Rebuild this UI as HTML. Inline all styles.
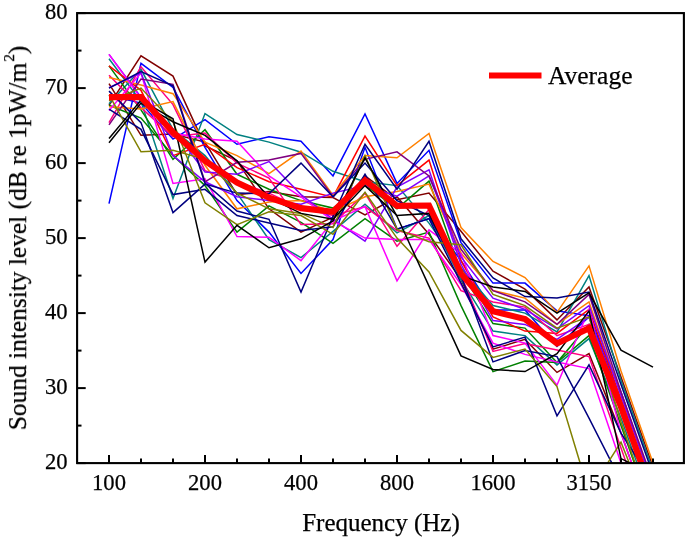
<!DOCTYPE html>
<html><head><meta charset="utf-8"><style>
html,body{margin:0;padding:0;background:#fff;width:685px;height:539px;overflow:hidden;position:relative}
.t{will-change:transform;position:absolute;font-family:"Liberation Serif",serif;font-size:22.6px;line-height:27px;color:#000;white-space:nowrap;-webkit-text-stroke:0.25px #000}
.c{text-align:center}
.ylab{font-size:25.4px;left:35px;top:238px;transform-origin:0 0;transform:translate(0,0) rotate(-90deg) translate(-50%,-100%);}
sup{font-size:15px;vertical-align:0;position:relative;top:-12px;margin-left:1px}
</style></head><body>
<svg width="685" height="539" viewBox="0 0 685 539" style="position:absolute;left:0;top:0">
<defs><clipPath id="pc"><rect x="77" y="13" width="607" height="450"/></clipPath></defs>
<g clip-path="url(#pc)" fill="none" stroke-linejoin="miter" stroke-linecap="butt">
<polyline points="109.0,105.3 141.0,55.9 173.0,76.1 205.0,145.9 237.0,160.9 269.0,208.8 301.0,232.1 333.0,217.1 365.0,175.9 397.0,199.8 429.0,193.1 461.0,231.3 493.0,271.1 525.0,289.1 557.0,319.9 589.0,286.9 621.0,376.9 653.0,466.9" stroke="#800000" stroke-width="1.5"/>
<polyline points="109.0,83.6 141.0,135.3 173.0,133.9 205.0,142.1 237.0,194.6 269.0,191.6 301.0,196.8 333.0,197.6 365.0,214.8 397.0,196.8 429.0,234.3 461.0,279.4 493.0,349.1 525.0,339.4 557.0,372.4 589.0,353.6 621.0,433.1 653.0,523.1" stroke="#800000" stroke-width="1.5"/>
<polyline points="109.0,203.6 141.0,63.4 173.0,87.4 205.0,147.3 237.0,200.6 269.0,232.1 301.0,273.4 333.0,239.6 365.0,147.3 397.0,229.1 429.0,218.6 461.0,260.6 493.0,310.1 525.0,310.1 557.0,346.5 589.0,316.9 621.0,399.4 653.0,493.1" stroke="#0000ff" stroke-width="1.5"/>
<polyline points="109.0,95.6 141.0,103.1 173.0,139.1 205.0,119.6 237.0,144.3 269.0,136.8 301.0,141.3 333.0,175.9 365.0,114.0 397.0,183.4 429.0,150.3 461.0,242.6 493.0,283.1 525.0,283.1 557.0,310.9 589.0,315.7 621.0,391.9 653.0,485.6" stroke="#0000ff" stroke-width="1.5"/>
<polyline points="109.0,58.8 141.0,101.6 173.0,198.4 205.0,113.6 237.0,134.6 269.0,142.1 301.0,152.2 333.0,171.3 365.0,181.8 397.0,185.6 429.0,223.1 461.0,268.1 493.0,305.6 525.0,313.1 557.0,331.9 589.0,275.6 621.0,380.6 653.0,470.6" stroke="#008080" stroke-width="1.5"/>
<polyline points="109.0,103.8 141.0,69.3 173.0,129.3 205.0,155.6 237.0,193.1 269.0,239.6 301.0,257.6 333.0,231.3 365.0,204.3 397.0,232.8 429.0,215.6 461.0,279.4 493.0,331.1 525.0,335.6 557.0,364.9 589.0,338.6 621.0,418.1 653.0,508.1" stroke="#008080" stroke-width="1.5"/>
<polyline points="109.0,65.9 141.0,109.9 173.0,159.3 205.0,129.7 237.0,174.3 269.0,189.3 301.0,200.6 333.0,208.1 365.0,184.8 397.0,208.8 429.0,181.1 461.0,271.9 493.0,323.6 525.0,328.1 557.0,362.6 589.0,324.4 621.0,406.9 653.0,493.1" stroke="#008000" stroke-width="1.5"/>
<polyline points="109.0,105.3 141.0,118.1 173.0,155.6 205.0,185.6 237.0,232.1 269.0,205.9 301.0,222.3 333.0,243.4 365.0,218.6 397.0,241.1 429.0,232.1 461.0,305.6 493.0,371.6 525.0,361.1 557.0,362.6 589.0,335.6 621.0,425.6 653.0,515.6" stroke="#008000" stroke-width="1.5"/>
<polyline points="109.0,65.9 141.0,90.3 173.0,155.6 205.0,144.3 237.0,167.6 269.0,181.8 301.0,189.3 333.0,197.2 365.0,136.1 397.0,185.6 429.0,160.1 461.0,260.6 493.0,316.9 525.0,331.1 557.0,333.4 589.0,309.4 621.0,399.4 653.0,493.1" stroke="#ff0000" stroke-width="1.5"/>
<polyline points="109.0,75.3 141.0,107.6 173.0,136.8 205.0,133.1 237.0,163.1 269.0,178.1 301.0,224.6 333.0,223.8 365.0,193.1 397.0,246.3 429.0,209.6 461.0,275.6 493.0,351.4 525.0,343.5 557.0,349.9 589.0,356.6 621.0,448.1 653.0,538.1" stroke="#ff0080" stroke-width="1.5"/>
<polyline points="109.0,122.6 141.0,66.7 173.0,104.6 205.0,170.6 237.0,181.8 269.0,193.1 301.0,208.1 333.0,215.6 365.0,206.6 397.0,230.6 429.0,238.1 461.0,290.6 493.0,301.9 525.0,307.1 557.0,335.6 589.0,324.4 621.0,410.6 653.0,500.6" stroke="#ff0080" stroke-width="1.5"/>
<polyline points="109.0,77.6 141.0,85.1 173.0,93.7 205.0,142.1 237.0,155.6 269.0,173.6 301.0,151.1 333.0,195.3 365.0,155.6 397.0,157.8 429.0,133.5 461.0,227.6 493.0,261.4 525.0,277.5 557.0,312.4 589.0,265.9 621.0,370.9 653.0,463.1" stroke="#ff8000" stroke-width="1.5"/>
<polyline points="109.0,106.8 141.0,109.1 173.0,101.6 205.0,165.3 237.0,208.8 269.0,202.1 301.0,200.6 333.0,211.8 365.0,196.8 397.0,191.6 429.0,184.1 461.0,253.1 493.0,290.6 525.0,298.1 557.0,324.4 589.0,301.9 621.0,395.6 653.0,485.6" stroke="#ff8000" stroke-width="1.5"/>
<polyline points="109.0,110.6 141.0,73.1 173.0,183.4 205.0,178.8 237.0,236.6 269.0,237.3 301.0,260.6 333.0,220.9 365.0,206.6 397.0,280.9 429.0,229.8 461.0,253.8 493.0,335.6 525.0,343.1 557.0,385.1 589.0,309.4 621.0,433.1 653.0,523.1" stroke="#ff00ff" stroke-width="1.5"/>
<polyline points="109.0,54.4 141.0,97.1 173.0,129.3 205.0,172.1 237.0,174.3 269.0,161.6 301.0,194.6 333.0,219.3 365.0,241.1 397.0,187.1 429.0,169.8 461.0,264.4 493.0,320.6 525.0,324.4 557.0,339.4 589.0,316.9 621.0,403.1 653.0,493.1" stroke="#8000ff" stroke-width="1.5"/>
<polyline points="109.0,54.4 141.0,98.6 173.0,133.1 205.0,139.1 237.0,141.3 269.0,175.9 301.0,196.8 333.0,220.9 365.0,238.1 397.0,239.6 429.0,239.6 461.0,284.6 493.0,343.1 525.0,354.4 557.0,361.9 589.0,368.6 621.0,463.1 653.0,553.1" stroke="#ff00ff" stroke-width="1.5"/>
<polyline points="109.0,87.7 141.0,72.7 173.0,155.6 205.0,181.8 237.0,196.8 269.0,200.6 301.0,204.3 333.0,193.1 365.0,185.6 397.0,196.1 429.0,175.9 461.0,256.9 493.0,298.1 525.0,309.4 557.0,328.9 589.0,305.6 621.0,395.6 653.0,485.6" stroke="#8000ff" stroke-width="1.5"/>
<polyline points="109.0,124.9 141.0,79.1 173.0,84.3 205.0,181.8 237.0,162.3 269.0,160.1 301.0,153.4 333.0,196.8 365.0,159.3 397.0,151.8 429.0,175.9 461.0,249.3 493.0,290.6 525.0,301.9 557.0,324.4 589.0,294.4 621.0,391.9 653.0,481.9" stroke="#800080" stroke-width="1.5"/>
<polyline points="109.0,88.1 141.0,71.6 173.0,85.9 205.0,183.4 237.0,211.1 269.0,219.3 301.0,292.1 333.0,216.3 365.0,144.3 397.0,189.3 429.0,141.3 461.0,238.8 493.0,277.9 525.0,296.6 557.0,298.1 589.0,292.1 621.0,384.4 653.0,474.4" stroke="#000080" stroke-width="1.5"/>
<polyline points="109.0,109.1 141.0,129.3 173.0,194.6 205.0,189.3 237.0,215.6 269.0,223.1 301.0,230.6 333.0,226.8 365.0,174.3 397.0,229.1 429.0,218.6 461.0,283.1 493.0,346.9 525.0,337.1 557.0,415.9 589.0,364.9 621.0,433.1 653.0,482.6" stroke="#000080" stroke-width="1.5"/>
<polyline points="109.0,91.1 141.0,122.6 173.0,212.6 205.0,184.1 237.0,193.1 269.0,193.8 301.0,163.1 333.0,196.8 365.0,163.1 397.0,200.6 429.0,215.6 461.0,275.6 493.0,361.9 525.0,350.6 557.0,356.6 589.0,418.1 621.0,481.1 653.0,553.1" stroke="#000080" stroke-width="1.5"/>
<polyline points="109.0,94.9 141.0,151.8 173.0,150.3 205.0,159.3 237.0,193.1 269.0,208.8 301.0,213.4 333.0,227.6 365.0,155.6 397.0,229.1 429.0,241.8 461.0,244.8 493.0,294.4 525.0,305.6 557.0,328.1 589.0,316.9 621.0,421.9 653.0,515.6" stroke="#808000" stroke-width="1.5"/>
<polyline points="109.0,100.9 141.0,88.1 173.0,121.8 205.0,202.8 237.0,224.6 269.0,211.8 301.0,215.6 333.0,234.3 365.0,192.3 397.0,238.1 429.0,271.9 461.0,330.4 493.0,357.4 525.0,349.1 557.0,386.6 589.0,492.4 621.0,442.1 653.0,523.1" stroke="#808000" stroke-width="1.5"/>
<polyline points="109.0,138.4 141.0,100.1 173.0,118.8 205.0,262.1 237.0,225.3 269.0,247.8 301.0,238.8 333.0,220.9 365.0,157.8 397.0,216.3 429.0,286.1 461.0,355.9 493.0,369.4 525.0,371.6 557.0,353.6 589.0,310.9 621.0,458.6 653.0,474.4" stroke="#000000" stroke-width="1.5"/>
<polyline points="109.0,142.8 141.0,103.1 173.0,121.8 205.0,135.3 237.0,160.9 269.0,197.6 301.0,213.4 333.0,219.3 365.0,185.6 397.0,215.6 429.0,213.4 461.0,275.6 493.0,286.9 525.0,291.4 557.0,313.1 589.0,292.9 621.0,350.2 653.0,367.1" stroke="#000000" stroke-width="1.5"/>
<polyline points="109.0,97.1 141.0,97.1 173.0,132.4 205.0,160.9 237.0,182.6 269.0,197.6 301.0,208.1 333.0,211.8 365.0,180.3 397.0,205.9 429.0,205.5 461.0,273.4 493.0,311.2 525.0,319.1 557.0,343.5 589.0,328.1 621.0,406.9 653.0,496.1" stroke="#ff0000" stroke-width="6.2" stroke-linejoin="miter"/>
</g>
<rect x="77.1" y="13.1" width="606.8" height="450" fill="none" stroke="#000" stroke-width="2.1"/>
<line x1="77" y1="463.1" x2="85.7" y2="463.1" stroke="#000" stroke-width="2"/>
<line x1="77" y1="425.6" x2="81.5" y2="425.6" stroke="#000" stroke-width="2"/>
<line x1="77" y1="388.1" x2="85.7" y2="388.1" stroke="#000" stroke-width="2"/>
<line x1="77" y1="350.6" x2="81.5" y2="350.6" stroke="#000" stroke-width="2"/>
<line x1="77" y1="313.1" x2="85.7" y2="313.1" stroke="#000" stroke-width="2"/>
<line x1="77" y1="275.6" x2="81.5" y2="275.6" stroke="#000" stroke-width="2"/>
<line x1="77" y1="238.1" x2="85.7" y2="238.1" stroke="#000" stroke-width="2"/>
<line x1="77" y1="200.6" x2="81.5" y2="200.6" stroke="#000" stroke-width="2"/>
<line x1="77" y1="163.1" x2="85.7" y2="163.1" stroke="#000" stroke-width="2"/>
<line x1="77" y1="125.6" x2="81.5" y2="125.6" stroke="#000" stroke-width="2"/>
<line x1="77" y1="88.1" x2="85.7" y2="88.1" stroke="#000" stroke-width="2"/>
<line x1="77" y1="50.6" x2="81.5" y2="50.6" stroke="#000" stroke-width="2"/>
<line x1="77" y1="13.1" x2="85.7" y2="13.1" stroke="#000" stroke-width="2"/>
<line x1="109" y1="463" x2="109" y2="455.0" stroke="#000" stroke-width="2"/>
<line x1="141" y1="463" x2="141" y2="458.5" stroke="#000" stroke-width="2"/>
<line x1="173" y1="463" x2="173" y2="458.5" stroke="#000" stroke-width="2"/>
<line x1="205" y1="463" x2="205" y2="455.0" stroke="#000" stroke-width="2"/>
<line x1="237" y1="463" x2="237" y2="458.5" stroke="#000" stroke-width="2"/>
<line x1="269" y1="463" x2="269" y2="458.5" stroke="#000" stroke-width="2"/>
<line x1="301" y1="463" x2="301" y2="455.0" stroke="#000" stroke-width="2"/>
<line x1="333" y1="463" x2="333" y2="458.5" stroke="#000" stroke-width="2"/>
<line x1="365" y1="463" x2="365" y2="458.5" stroke="#000" stroke-width="2"/>
<line x1="397" y1="463" x2="397" y2="455.0" stroke="#000" stroke-width="2"/>
<line x1="429" y1="463" x2="429" y2="458.5" stroke="#000" stroke-width="2"/>
<line x1="461" y1="463" x2="461" y2="458.5" stroke="#000" stroke-width="2"/>
<line x1="493" y1="463" x2="493" y2="455.0" stroke="#000" stroke-width="2"/>
<line x1="525" y1="463" x2="525" y2="458.5" stroke="#000" stroke-width="2"/>
<line x1="557" y1="463" x2="557" y2="458.5" stroke="#000" stroke-width="2"/>
<line x1="589" y1="463" x2="589" y2="455.0" stroke="#000" stroke-width="2"/>
<line x1="621" y1="463" x2="621" y2="458.5" stroke="#000" stroke-width="2"/>
<line x1="653" y1="463" x2="653" y2="458.5" stroke="#000" stroke-width="2"/>
<line x1="489" y1="75.5" x2="541.5" y2="75.5" stroke="#ff0000" stroke-width="6"/>
</svg>
<div class="t" style="right:617.5px;top:448.1px;text-align:right">20</div>
<div class="t" style="right:617.5px;top:373.1px;text-align:right">30</div>
<div class="t" style="right:617.5px;top:298.1px;text-align:right">40</div>
<div class="t" style="right:617.5px;top:223.1px;text-align:right">50</div>
<div class="t" style="right:617.5px;top:148.1px;text-align:right">60</div>
<div class="t" style="right:617.5px;top:73.1px;text-align:right">70</div>
<div class="t" style="right:617.5px;top:-1.9px;text-align:right">80</div>
<div class="t c" style="left:58.7px;top:469.3px;width:100px">100</div>
<div class="t c" style="left:154.7px;top:469.3px;width:100px">200</div>
<div class="t c" style="left:250.7px;top:469.3px;width:100px">400</div>
<div class="t c" style="left:346.7px;top:469.3px;width:100px">800</div>
<div class="t c" style="left:442.7px;top:469.3px;width:100px">1600</div>
<div class="t c" style="left:538.7px;top:469.3px;width:100px">3150</div>
<div class="t c" style="left:231px;top:509.3px;width:300px;font-size:25px">Frequency (Hz)</div>
<div class="t" style="left:548px;top:61.8px;font-size:25.5px">Average</div>
<div class="t ylab">Sound intensity level (dB re 1pW/m<sup>2</sup>)</div>
</body></html>
